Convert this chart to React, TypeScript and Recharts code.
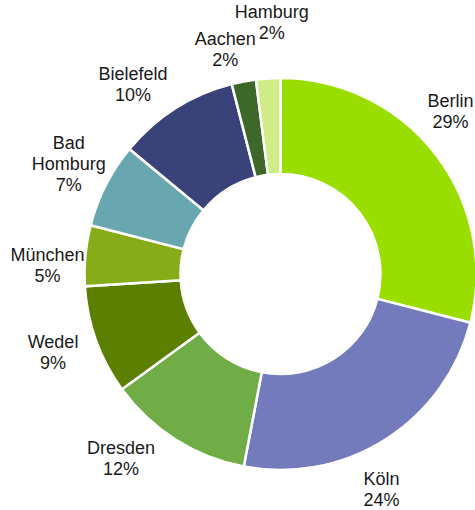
import React from 'react'
import { PieChart, Pie, Cell } from 'recharts'

/* ------------------------------------------------------------------ */
/*  Data                                                               */
/* ------------------------------------------------------------------ */

const cities = ['Berlin', 'Köln', 'Dresden', 'Wedel', 'München', 'Bad Homburg', 'Bielefeld', 'Aachen', 'Hamburg']
const shares = [29, 24, 12, 9, 5, 7, 10, 2, 2]

const COLORS = ['#9ade00', '#737bbd', '#70ad47', '#5b8000', '#86ac1a', '#68a6b0', '#3a427a', '#3d682a', '#cfec86']

// the labels were placed by hand in the original, so each one gets a small
// nudge (degrees clockwise, px beyond the outer edge)
const LABEL_NUDGE: Record<string, [number, number]> = {
  Berlin: [-5.6, 38],
  Köln: [7.4, 43],
  Dresden: [8.2, 49],
  Wedel: [0.5, 45],
  München: [-3.8, 37],
  'Bad Homburg': [0.2, 42],
  Bielefeld: [-5.7, 43],
  Aachen: [-3.1, 34],
  Hamburg: [1.6, 54],
}

const data = cities.map((name, i) => ({ name, value: shares[i] }))

const RADIAN = Math.PI / 180
const FONT = '"Liberation Sans", Arial, sans-serif'
const LINE_H = 21

/* ------------------------------------------------------------------ */
/*  Label                                                              */
/* ------------------------------------------------------------------ */

function CityLabel(props: any) {
  const { cx, cy, midAngle, outerRadius, name, value } = props
  const [shift, extra] = LABEL_NUDGE[name] ?? [0, 40]
  const ang = (midAngle - shift) * RADIAN
  const r = outerRadius + extra
  const x = cx + r * Math.cos(ang)
  const y = cy - r * Math.sin(ang)

  const lines = [...String(name).split(' '), `${value}%`]
  const firstBase = y - 6 - (lines.length - 2) * (LINE_H / 2)

  return (
    <text x={x} y={firstBase} textAnchor="middle" fill="#1a1a1a" fontSize={18} fontFamily={FONT}>
      {lines.map((l, i) => (
        <tspan key={i} x={x} y={firstBase + i * LINE_H}>
          {l}
        </tspan>
      ))}
    </text>
  )
}

/* ------------------------------------------------------------------ */
/*  Component                                                          */
/* ------------------------------------------------------------------ */

export default function App() {
  return (
    <div style={{ position: 'absolute', left: 0, top: 0, background: '#fff' }}>
      <PieChart width={475} height={510} margin={{ top: 0, right: 0, bottom: 0, left: 0 }}>
        <Pie
          data={data}
          dataKey="value"
          nameKey="name"
          cx={280.5}
          cy={274}
          innerRadius={100}
          outerRadius={196}
          startAngle={90}
          endAngle={-270}
          stroke="#ffffff"
          strokeWidth={2.5}
          label={CityLabel}
          labelLine={false}
          isAnimationActive={false}
        >
          {data.map((d, i) => (
            <Cell key={d.name} fill={COLORS[i]} />
          ))}
        </Pie>
      </PieChart>
    </div>
  )
}
